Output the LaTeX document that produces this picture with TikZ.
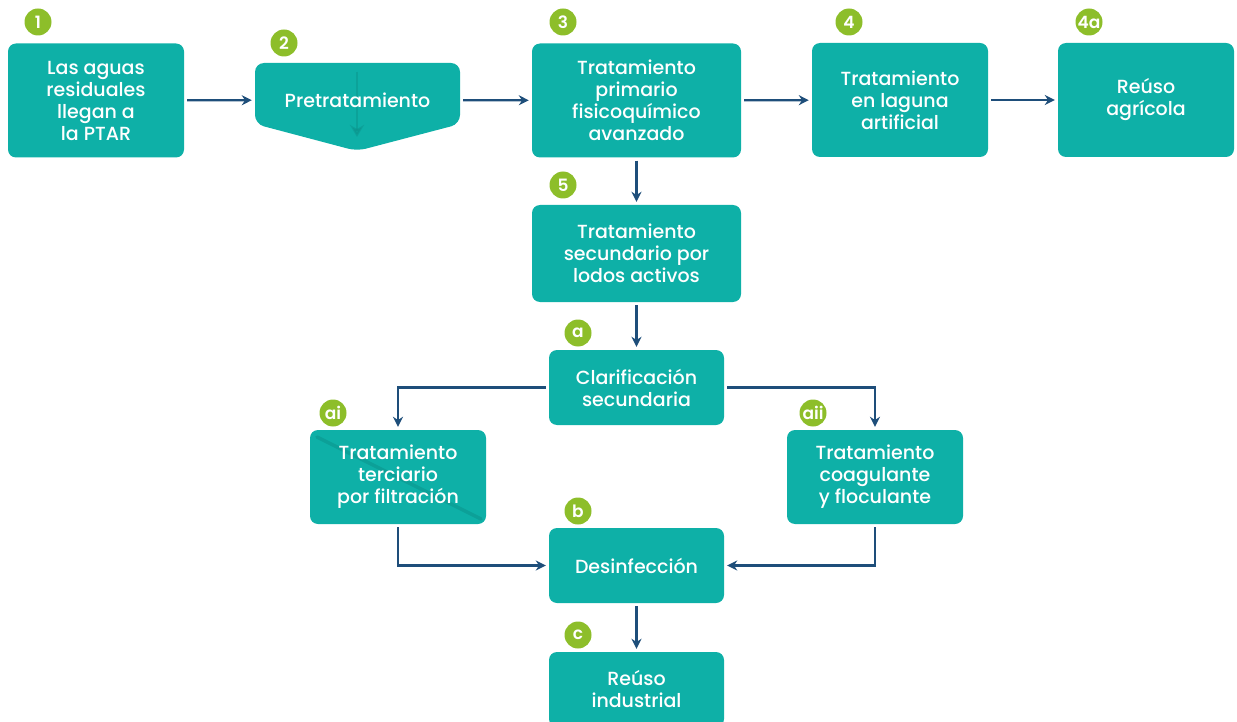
\documentclass[tikz,border=0pt]{standalone}
\usepackage{fontspec}
\setmainfont{Poppins}[UprightFont={* Medium},BoldFont={* SemiBold}]
\usepackage{tikz}
\usetikzlibrary{arrows.meta,positioning,calc}

\definecolor{boxteal}{RGB}{14,176,167}
\definecolor{badgegreen}{RGB}{141,190,42}
\definecolor{flowblue}{RGB}{30,78,122}

\begin{document}
\begin{tikzpicture}[x=1pt,y=-1pt,
  box/.style={fill=boxteal,rounded corners=8pt,text=white,align=center,
    font=\fontsize{19}{22}\selectfont,inner sep=0pt},
  badge/.style={circle,fill=badgegreen,text=white,inner sep=0pt,
    minimum size=27pt,font=\bfseries\fontsize{17}{17}\selectfont},
  flow/.style={draw=flowblue,line width=2.2pt,shorten <=3pt,shorten >=3pt,
    -{Stealth[length=10pt,width=10pt]}}]
\useasboundingbox (0,0) rectangle (1237,722);

% Top row
\node[box,minimum width=176pt,minimum height=114pt] (inflow) at (96,100.5)
  {Las aguas\\residuales\\llegan a\\la PTAR};
\fill[boxteal,rounded corners=9pt] (255,63) -- (460,63) -- (460,124)
  -- (357,151) -- (255,124) -- cycle;
\draw[boxteal!80!black,opacity=0.4,line width=2pt,-{Stealth[length=12pt,width=14pt]}]
  (357,72) -- (357,137);
\node[box,fill=none,minimum width=205pt,minimum height=74pt] (pre) at (357.5,100)
  {Pretratamiento};
\node[box,minimum width=209pt,minimum height=114pt] (primary) at (636.5,100.5)
  {Tratamiento\\primario\\fisicoquímico\\avanzado};
\node[box,minimum width=176pt,minimum height=114pt] (lagoon) at (900,100)
  {Tratamiento\\en laguna\\artificial};
\node[box,minimum width=176pt,minimum height=114pt] (agri) at (1146,100)
  {Reúso\\agrícola};

% Central column
\node[box,minimum width=209pt,minimum height=97pt] (secondary) at (636.5,253.5)
  {Tratamiento\\secundario por\\lodos activos};
\node[box,minimum width=175pt,minimum height=75pt] (clar) at (636.5,387.5)
  {Clarificación\\secundaria};
\fill[boxteal,rounded corners=8pt] (310,430) rectangle (486,524);
\draw[boxteal!80!black,opacity=0.45,line width=3.5pt,line cap=round]
  (317,437) -- (481,519);
\node[box,fill=none,minimum width=176pt,minimum height=94pt] (tert) at (398,477)
  {Tratamiento\\terciario\\por filtración};
\node[box,minimum width=176pt,minimum height=94pt] (coag) at (875,477)
  {Tratamiento\\coagulante\\y floculante};
\node[box,minimum width=175pt,minimum height=75pt] (disinf) at (636.5,565.5)
  {Desinfección};
\node[box,minimum width=175pt,minimum height=75pt] (indus) at (636.5,689.5)
  {Reúso\\industrial};

% Step badges
\foreach \x/\y/\name/\label in {38/22/b1/1, 284/43/b2/2, 563/22/b3/3, 849/22/b4/4,
    1089/22/b4a/4a, 563/185/b5/5, 578/333/ba/a, 333/413/bai/ai, 813/413/baii/aii,
    578/511/bb/b, 578/635/bc/c}
  \node[badge] (\name) at (\x,\y) {\label};

% Connectors
\draw[flow] (inflow) -- (pre);
\draw[flow] (pre) -- (primary);
\draw[flow] (primary) -- (lagoon);
\draw[flow] (lagoon) -- (agri);
\draw[flow] (primary) -- (secondary);
\draw[flow] (secondary) -- (clar);
\draw[flow] (clar.west) -| (tert.north);
\draw[flow] (clar.east) -| (coag.north);
\draw[flow] (tert.south) |- (disinf.west);
\draw[flow] (coag.south) |- (disinf.east);
\draw[flow] (disinf) -- (indus);
\end{tikzpicture}
\end{document}
